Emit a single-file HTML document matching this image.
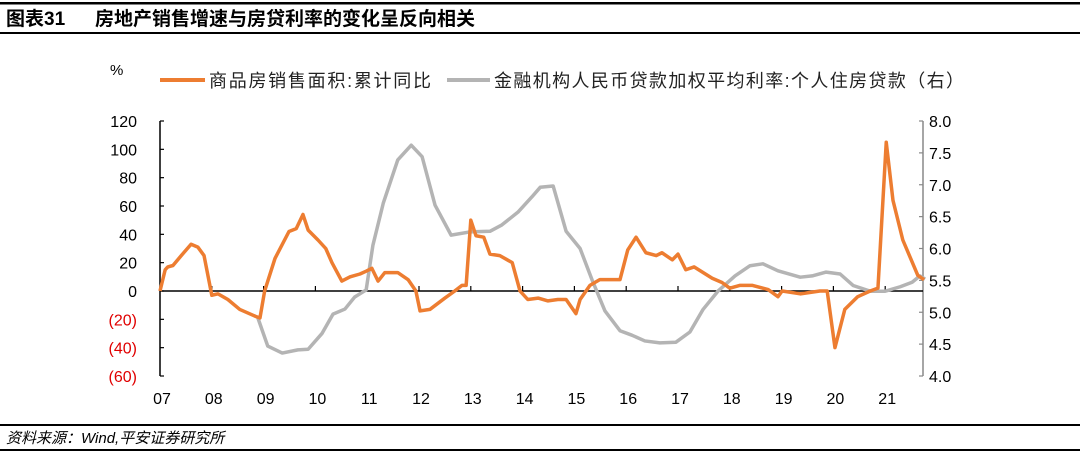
<!DOCTYPE html>
<html><head><meta charset="utf-8"><style>
body{margin:0;background:#fff;width:1080px;height:455px;overflow:hidden;font-family:"Liberation Sans","Noto Sans CJK SC",sans-serif}
</style></head><body>
<svg id="c" width="1080" height="455" xmlns="http://www.w3.org/2000/svg" font-family="Liberation Sans, Noto Sans CJK SC, sans-serif">
<rect x="0" y="2" width="1080" height="2.5" fill="#000"/>
<text x="6" y="25" font-size="19" font-weight="bold">图表31<tspan x="95">房地产销售增速与房贷利率的变化呈反向相关</tspan></text>
<rect x="0" y="32" width="1080" height="2" fill="#000"/>
<text x="110" y="75" font-size="15">%</text>
<g>
<line x1="160" y1="80" x2="205" y2="80" stroke="#ED7D31" stroke-width="4"/>
<text x="209" y="87" font-size="18" fill="#222" textLength="222">商品房销售面积:累计同比</text>
<line x1="447" y1="80" x2="490" y2="80" stroke="#B4B4B4" stroke-width="4"/>
<text x="494" y="87" font-size="18" fill="#222" textLength="470">金融机构人民币贷款加权平均利率:个人住房贷款（右）</text>
</g>
<g id="axes"></g>
<g id="series"></g>
<rect x="0" y="424" width="1080" height="2" fill="#000"/>
<text x="6" y="443" font-size="15" font-style="italic">资料来源：Wind,平安证券研究所</text>
<rect x="0" y="449" width="1080" height="2" fill="#000"/>
</svg>
<script>
const leftTicks=[120,100,80,60,40,20,0,-20,-40,-60];
const leftTickLabels=["120","100","80","60","40","20","0","(20)","(40)","(60)"];
const rightTicks=[8.0,7.5,7.0,6.5,6.0,5.5,5.0,4.5,4.0];
const rightTickLabels=["8.0","7.5","7.0","6.5","6.0","5.5","5.0","4.5","4.0"];
const yearTicks=[2007,2008,2009,2010,2011,2012,2013,2014,2015,2016,2017,2018,2019,2020,2021];
const yearLabels=["07","08","09","10","11","12","13","14","15","16","17","18","19","20","21"];
const salesDates=[2007.00,2007.10,2007.15,2007.25,2007.41,2007.60,2007.73,2007.85,2008.00,2008.12,2008.31,2008.54,2008.85,2008.93,2009.02,2009.22,2009.49,2009.63,2009.76,2009.86,2010.05,2010.20,2010.32,2010.51,2010.67,2010.86,2010.98,2011.09,2011.21,2011.34,2011.59,2011.79,2011.94,2012.02,2012.21,2012.50,2012.69,2012.83,2012.91,2013.00,2013.10,2013.25,2013.37,2013.56,2013.80,2013.95,2014.10,2014.30,2014.49,2014.68,2014.84,2015.03,2015.11,2015.30,2015.49,2015.88,2016.03,2016.19,2016.38,2016.58,2016.69,2016.89,2017.00,2017.15,2017.31,2017.66,2017.85,2018.00,2018.20,2018.43,2018.74,2018.93,2019.01,2019.36,2019.74,2019.88,2020.03,2020.22,2020.47,2020.71,2020.86,2021.02,2021.15,2021.34,2021.63,2021.75];
const salesValues=[0,15,17,18,25,33,31,25,-3,-2,-6,-13,-18,-19,0,23,42,44,54,43,36,30,20,7,10,12,14,16,7,13,13,8,0,-14,-13,-5,0,4,4,50,39,38,26,25,20,0,-6,-5,-7,-6,-6,-16,-6,4,8,8,29,38,27,25,27,22,26,15,17,9,6,2,4,4,1,-4,0,-2,0,0,-40,-13,-4,0,2,105,64,36,11,8];
const rateDates=[2008.89,2009.08,2009.36,2009.66,2009.86,2010.13,2010.34,2010.57,2010.76,2010.98,2011.11,2011.31,2011.59,2011.85,2012.06,2012.31,2012.62,2012.98,2013.37,2013.60,2013.91,2014.18,2014.34,2014.59,2014.84,2015.11,2015.34,2015.59,2015.88,2016.11,2016.36,2016.65,2016.96,2017.23,2017.48,2017.77,2018.10,2018.39,2018.64,2018.93,2019.36,2019.59,2019.86,2020.13,2020.38,2020.71,2021.00,2021.29,2021.52,2021.67,2021.77];
const rateValues=[4.91,4.47,4.36,4.41,4.42,4.67,4.97,5.05,5.24,5.35,6.05,6.71,7.39,7.62,7.44,6.68,6.21,6.26,6.27,6.37,6.57,6.81,6.96,6.98,6.27,6.0,5.51,5.02,4.71,4.64,4.55,4.52,4.53,4.69,5.04,5.33,5.57,5.73,5.76,5.65,5.55,5.57,5.63,5.60,5.42,5.33,5.33,5.40,5.47,5.57,5.52];

const NS="http://www.w3.org/2000/svg";
const X0=160,X1=923,T=121,B=376;
const xs=t=>X0+(t-2007)*51.8;
const yl=v=>T+(120-v)/180*(B-T);
const yr=v=>T+(8-v)/4*(B-T);
function mk(tag,attrs,parent){const e=document.createElementNS(NS,tag);for(const k in attrs)e.setAttribute(k,attrs[k]);parent.appendChild(e);return e;}
const ax=document.getElementById('axes'),se=document.getElementById('series');
let e;
e=mk('line',{x1:X0,y1:T,x2:X0,y2:B,stroke:'#000','stroke-width':1.5},ax);


e=mk('line',{x1:X1,y1:T,x2:X1,y2:B,stroke:'#888','stroke-width':1.5},ax);


e=mk('line',{x1:X0,y1:yl(0),x2:X1,y2:yl(0),stroke:'#000','stroke-width':1.5},ax);


leftTicks.forEach((v,i)=>{
  mk('line',{x1:X0,y1:yl(v),x2:X0+4,y2:yl(v),stroke:'#000','stroke-width':1.2},ax);
  e=mk('text',{x:137,y:yl(v)+6,'font-size':16,'text-anchor':'end',fill:v<0?'#E00000':'#000'},ax);
  e.textContent=leftTickLabels[i];
  
  
});
rightTicks.forEach((v,i)=>{
  mk('line',{x1:X1-4,y1:yr(v),x2:X1,y2:yr(v),stroke:'#888','stroke-width':1.2},ax);
  e=mk('text',{x:929,y:yr(v)+6,'font-size':16,fill:'#000'},ax);
  e.textContent=rightTickLabels[i];
  
  
});
yearTicks.forEach((t,i)=>{
  if(i>0)mk('line',{x1:xs(t),y1:yl(0),x2:xs(t),y2:yl(0)-5,stroke:'#000','stroke-width':1.2},ax);
  e=mk('text',{x:xs(t)+2,y:404,'font-size':16,'text-anchor':'middle'},ax);
  e.textContent=yearLabels[i];
  
  
});
e=mk('polyline',{points:rateDates.map((d,i)=>xs(d)+','+yr(rateValues[i])).join(' '),fill:'none',stroke:'#B4B4B4','stroke-width':3.5,'stroke-linejoin':'round'},se);


e=mk('polyline',{points:salesDates.map((d,i)=>xs(d)+','+yl(salesValues[i])).join(' '),fill:'none',stroke:'#ED7D31','stroke-width':3.5,'stroke-linejoin':'round'},se);


</script>
</body></html>
